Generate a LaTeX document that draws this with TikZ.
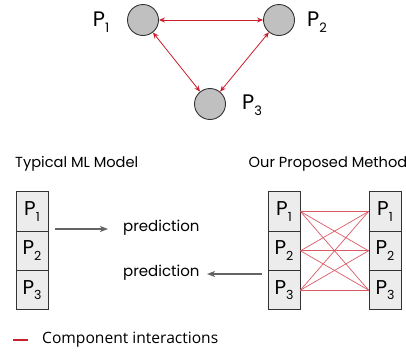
\documentclass[tikz,border=0pt]{standalone}
\usepackage{fontspec}
\setmainfont{Poppins}
\newfontfamily\legendfont{Open Sans}
\usetikzlibrary{arrows.meta}
\definecolor{myred}{RGB}{200,30,45}
\definecolor{linered}{RGB}{218,90,100}
\definecolor{circfill}{RGB}{192,192,192}
\definecolor{boxfill}{RGB}{236,236,236}
\definecolor{arrgray}{RGB}{100,100,100}
\newcommand{\Psub}[3]{{\fontsize{#1}{#1}\selectfont P\raisebox{-0.28em}{\fontsize{#2}{#2}\selectfont #3}}}
\tikzset{
  pcirc/.style={circle, draw=black!80, line width=0.9pt, fill=circfill, minimum size=31pt, inner sep=0pt},
  redarr/.style={draw=myred, line width=0.8pt, {Stealth[length=6pt,width=5pt]}-{Stealth[length=6pt,width=5pt]}},
  pbox/.style={draw=black!80, line width=0.9pt, fill=boxfill, minimum width=32pt, minimum height=39.3pt, inner sep=0pt},
  link/.style={draw=linered, line width=0.7pt},
  grayarr/.style={draw=arrgray, line width=1.3pt, -{Stealth[length=8pt,width=6pt,inset=2pt]}},
  plabel/.style={inner sep=0pt},
  title/.style={inner sep=0pt, font=\fontsize{14.6}{15}\selectfont},
  predtext/.style={inner sep=0pt, font=\fontsize{15}{16}\selectfont}
}
\begin{document}
\begin{tikzpicture}[x=1pt,y=-1pt]
\useasboundingbox (0,0) rectangle (406,354);
% top graph
\node[pcirc] (c1) at (143,20) {};
\node[pcirc] (c2) at (279,20) {};
\node[pcirc] (c3) at (210,104) {};
\node[plabel] (t1) at (101,22) {\Psub{21}{13}{1}};
\node[plabel] (t2) at (317,22) {\Psub{21}{13}{2}};
\node[plabel] (t3) at (252,105) {\Psub{21}{13}{3}};
\draw[redarr] (c1) -- (c2);
\draw[redarr] (c1) -- (c3);
\draw[redarr] (c2) -- (c3);
% titles
\node[title, anchor=west] (ttl1) at (15,164) {Typical ML Model};
\node[title] (ttl2) at (328,164) {Our Proposed Method};
% left stack
\node[pbox] (l1) at (32,211.5) {\Psub{20}{12.5}{1}};
\node[pbox] (l2) at (32,250.8) {\Psub{20}{12.5}{2}};
\node[pbox] (l3) at (32,290.1) {\Psub{20}{12.5}{3}};
% right stacks
\node[pbox] (a1) at (284,211.5) {\Psub{20}{12.5}{1}};
\node[pbox] (a2) at (284,250.8) {\Psub{20}{12.5}{2}};
\node[pbox] (a3) at (284,290.1) {\Psub{20}{12.5}{3}};
\node[pbox] (b1) at (385,211.5) {\Psub{20}{12.5}{1}};
\node[pbox] (b2) at (385,250.8) {\Psub{20}{12.5}{2}};
\node[pbox] (b3) at (385,290.1) {\Psub{20}{12.5}{3}};
\foreach \i in {1,2,3}{\foreach \j in {1,2,3}{\draw[link] (a\i.east) -- (b\j.west);}}
% predictions
\node[predtext, anchor=west] (p1) at (123,228) {prediction};
\node[predtext, anchor=west] (p2) at (123,273) {prediction};
\coordinate (s1) at (55,229);
\coordinate (e1) at (108,229);
\coordinate (s2) at (262,274);
\coordinate (e2) at (207,274);
\draw[grayarr] (s1) -- (e1);
\draw[grayarr] (s2) -- (e2);
% legend
\coordinate (lg1) at (13,340);
\coordinate (lg2) at (28,340);
\draw[draw=myred, line width=2.5pt] (lg1) -- (lg2);
\node[inner sep=0pt, anchor=west, font=\legendfont\fontsize{15.6}{16}\selectfont] (lgt) at (42,340) {Component interactions};
\end{tikzpicture}
\end{document}
